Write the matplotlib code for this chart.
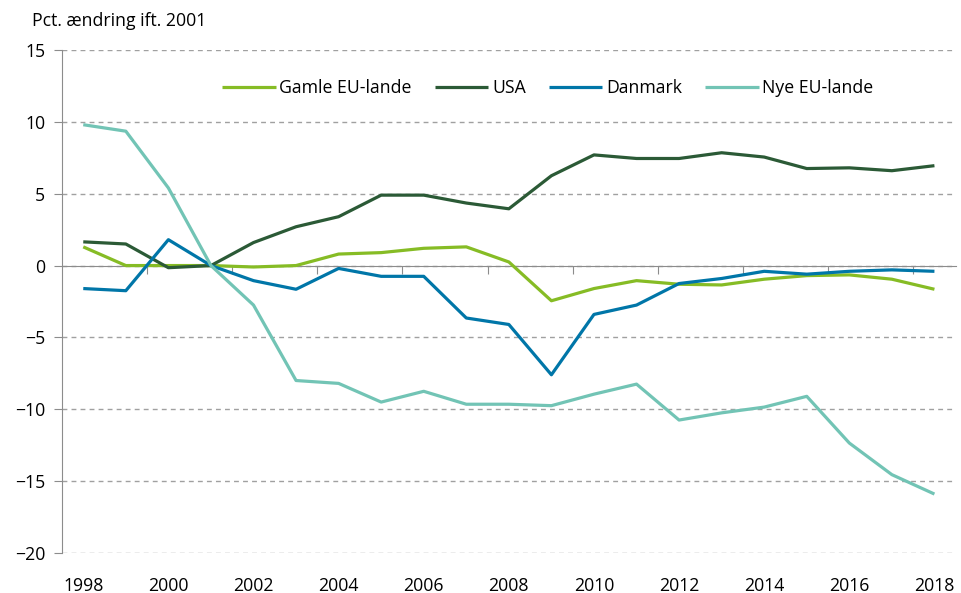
import numpy as np
import matplotlib.pyplot as plt
from matplotlib.ticker import FixedLocator

plt.rcParams['font.family'] = ['Open Sans', 'DejaVu Sans']

years = np.arange(1998, 2019)

gamle_eu = [1.3, 0.0, 0.0, 0.0, -0.1, 0.0, 0.8, 0.9, 1.2, 1.3, 0.25,
            -2.45, -1.6, -1.05, -1.3, -1.35, -0.95, -0.7, -0.65, -0.95, -1.65]
usa = [1.65, 1.5, -0.15, 0.0, 1.6, 2.7, 3.4, 4.9, 4.9, 4.35, 3.95,
       6.25, 7.7, 7.45, 7.45, 7.85, 7.55, 6.75, 6.8, 6.6, 6.95]
danmark = [-1.6, -1.75, 1.8, 0.0, -1.05, -1.65, -0.2, -0.75, -0.75, -3.65, -4.1,
           -7.6, -3.4, -2.75, -1.25, -0.9, -0.4, -0.6, -0.4, -0.3, -0.4]
nye_eu = [9.8, 9.35, 5.4, 0.0, -2.75, -8.0, -8.2, -9.5, -8.75, -9.65, -9.65,
          -9.75, -8.95, -8.25, -10.75, -10.25, -9.85, -9.1, -12.35, -14.55, -15.9]

series = [
    ('Gamle EU-lande', gamle_eu, '#86bc25'),
    ('USA', usa, '#2b5a36'),
    ('Danmark', danmark, '#0076a8'),
    ('Nye EU-lande', nye_eu, '#72c4b5'),
]

fs = 12.7

fig = plt.figure(figsize=(9.61, 5.93), dpi=100)
ax = fig.add_axes([0.0645, 0.0675, 0.93, 0.8482])

for name, vals, col in series:
    ax.plot(years, vals, color=col, lw=2.3, label=name, solid_capstyle='butt')

ax.set_xlim(1997.5, 2018.5)
ax.set_ylim(-20, 15)
ax.set_yticks(np.arange(-20, 16, 5))
ax.yaxis.grid(True, color='#a0a0a0', lw=1, linestyle=(0, (3.5, 3)))
ax.set_axisbelow(True)

for s in ['top', 'right']:
    ax.spines[s].set_visible(False)
ax.spines['left'].set_color('#8c8c8c')
ax.spines['bottom'].set_position(('data', 0))
ax.spines['bottom'].set_color('#8c8c8c')
ax.spines['bottom'].set_zorder(1)

# ticks on the zero line between year pairs, no labels
ax.xaxis.set_major_locator(FixedLocator(np.arange(1999.5, 2018, 2)))
ax.tick_params(axis='x', direction='out', length=6, color='#8c8c8c', labelbottom=False)
ax.tick_params(axis='y', length=6, color='#8c8c8c', labelsize=fs, pad=6)

# year labels at the bottom of the plot
sec = ax.secondary_xaxis(0.0)
sec.set_xticks(years[::2])
sec.spines['bottom'].set_visible(False)
sec.tick_params(length=0, labelsize=fs, pad=17)

fig.text(0.033, 0.965, 'Pct. ændring ift. 2001', fontsize=fs, va='center', ha='left')

ax.legend(loc='center left', bbox_to_anchor=(0.179, 0.9245), ncol=4, frameon=False,
          fontsize=fs, handlelength=3.05, handletextpad=0.2, columnspacing=1.3,
          borderaxespad=0, borderpad=0)

fig.savefig('out.png', dpi=100)
